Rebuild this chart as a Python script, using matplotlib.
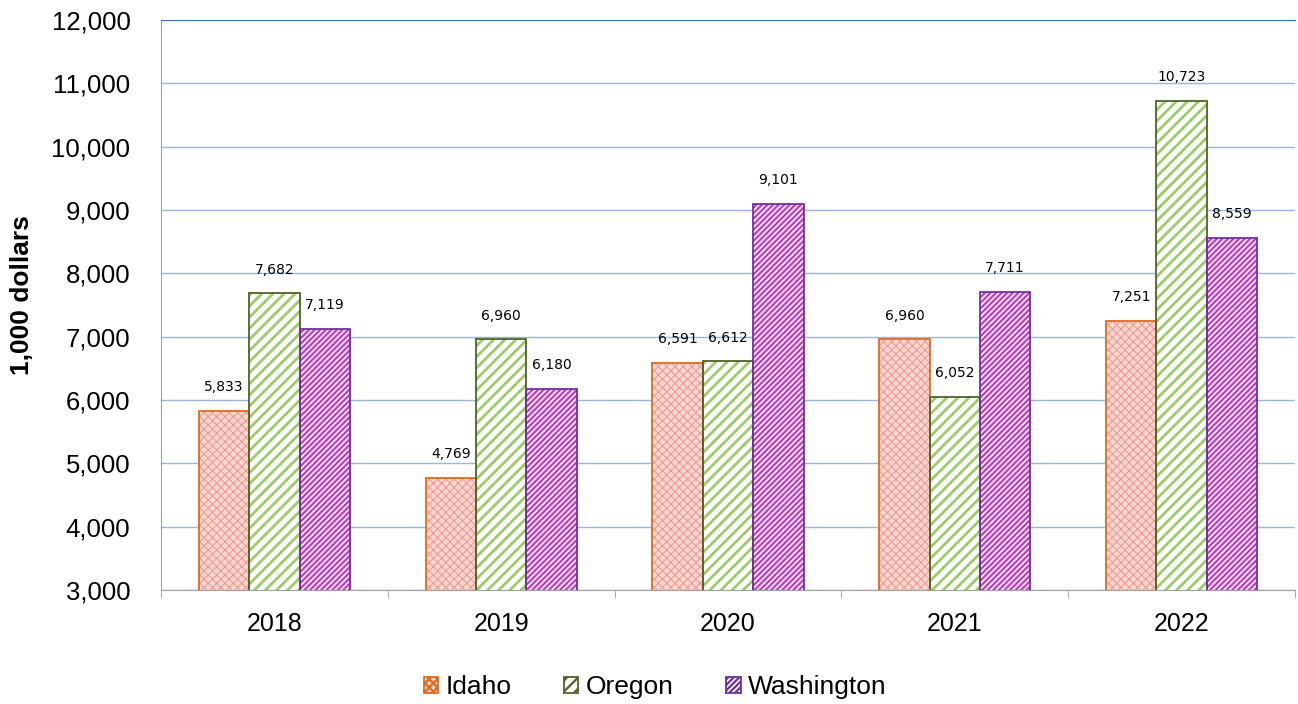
import numpy as np
import matplotlib.pyplot as plt
import matplotlib as mpl

years = ['2018', '2019', '2020', '2021', '2022']
idaho = [5833, 4769, 6591, 6960, 7251]
oregon = [7682, 6960, 6612, 6052, 10723]
washington = [7119, 6180, 9101, 7711, 8559]

plt.rcParams['font.family'] = ['Liberation Sans', 'DejaVu Sans']

fig = plt.figure(figsize=(12.98, 7.04), dpi=100)
ax = fig.add_axes([161 / 1298, 1 - 590 / 704, 1134 / 1298, 570 / 704])

x = np.arange(len(years))
w = 0.222
series = [
    ('Idaho', idaho, '#FBD8D3', '#F19A90', 'xxxx', '#E26B1C', 0.8),
    ('Oregon', oregon, 'white', '#9BCB6B', '///', '#4F6228', 2.0),
    ('Washington', washington, 'white', '#CC33CC', '//////', '#7030A0', 1.6),
]

handles = []
for i, (name, vals, fc, hc, hatch, ec, hlw) in enumerate(series):
    pos = x + (i - 1) * w
    mpl.rcParams['hatch.linewidth'] = hlw
    ax.bar(pos, vals, w, bottom=0, color=fc, edgecolor=hc, hatch=hatch,
           linewidth=0, zorder=2)
    ax.bar(pos, vals, w, bottom=0, facecolor='none', edgecolor=ec,
           linewidth=1.3, zorder=3)
    for p, v in zip(pos, vals):
        ax.annotate(f'{v:,}', (p, v), xytext=(0, 12), textcoords='offset points',
                    ha='center', va='bottom', fontsize=10, family=['DejaVu Sans'])
    handles.append(mpl.patches.Patch(facecolor=fc, edgecolor=ec, hatch=hatch,
                                     linewidth=1.3, label=name))

ax.set_ylim(3000, 12000)
ax.set_xlim(-0.5, 4.5)
ax.set_yticks(np.arange(3000, 12001, 1000))
ax.yaxis.set_major_formatter(mpl.ticker.FuncFormatter(lambda v, p: f'{int(v):,}'))
ax.grid(axis='y', color='#9DB3E0', linewidth=1.0, zorder=0)
ax.set_axisbelow(True)
ax.tick_params(axis='y', length=0, labelsize=18.5, pad=22)
ax.set_xticks(x)
ax.set_xticklabels(years, fontsize=18)
ax.set_xticks(np.arange(-0.5, 5, 1), minor=True)
ax.tick_params(axis='x', which='major', length=0, pad=16)
ax.tick_params(axis='x', which='minor', length=6, color='#A0A0A0')
fig.text(22 / 1298, 1 - 295 / 704, '1,000 dollars', rotation=90, fontsize=19,
         fontweight='bold', ha='center', va='center')

ax.spines['top'].set_color('#4472C4')
ax.spines['right'].set_visible(False)
ax.spines['left'].set_color('#A0A0A0')
ax.spines['bottom'].set_color('#A0A0A0')

fig.legend(handles=handles, loc='center', bbox_to_anchor=(655 / 1298, 1 - 687 / 704),
           ncol=3, frameon=False, fontsize=19, handlelength=0.55,
           handleheight=0.55, handletextpad=0.27, columnspacing=2.0,
           borderpad=0)

fig.savefig('out.png', dpi=100)
